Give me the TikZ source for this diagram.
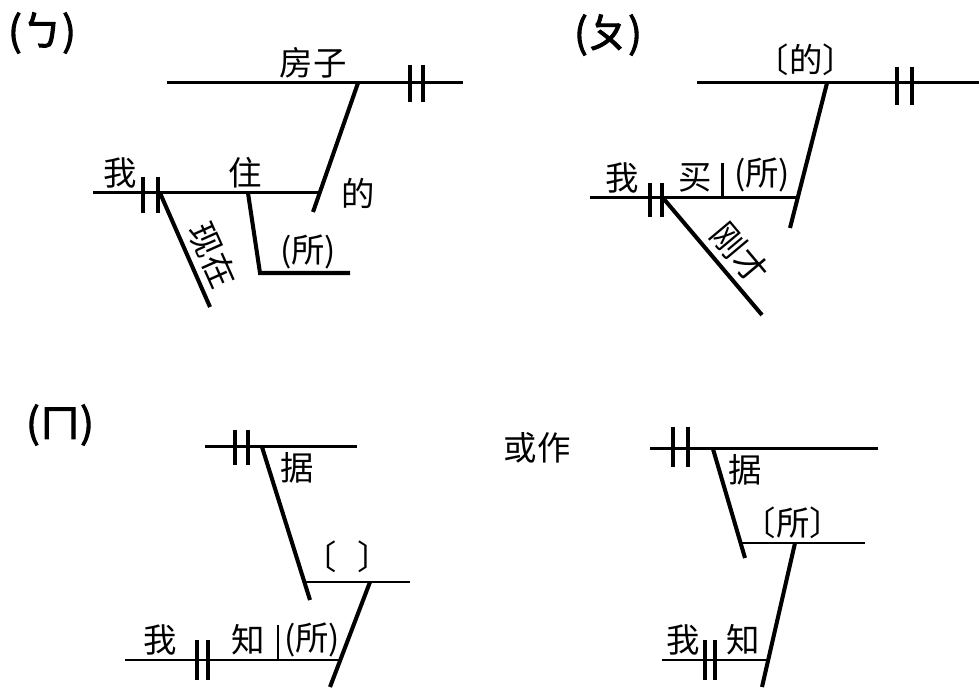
\documentclass[tikz,border=0pt]{standalone}
\usepackage{fontspec}
\usepackage{tikz}
\newfontfamily\cjk{Noto Sans CJK SC}
\newfontfamily\cjkheavy[FakeBold=2.5]{Noto Sans CJK SC}
\tikzset{
  base/.style={draw=black,line width=0.85pt},
  stem/.style={draw=black,line width=1.15pt},
  bar/.style={draw=black,line width=1.3pt},
  word/.style={font=\cjk\fontsize{9.5}{11}\selectfont,inner sep=0pt},
  tag/.style={font=\cjkheavy\fontsize{11.5}{13}\selectfont,inner sep=0pt},
}
\begin{document}
\begin{tikzpicture}[x=0.01cm,y=-0.01cm]
\useasboundingbox (0,0) rectangle (979,689);
\coordinate (a1) at (167,83);
\coordinate (a2) at (463,83);
\coordinate (a3) at (358,83);
\coordinate (a4) at (313,212);
\coordinate (a5) at (93,193);
\coordinate (a6) at (320,193);
\coordinate (a7) at (160,193);
\coordinate (a8) at (210,307);
\coordinate (a9) at (248,193);
\coordinate (a10) at (260,273);
\coordinate (a11) at (350,273);
\draw[base] (a1)--(a2);
\draw[stem] (a3)--(a4);
\draw[base] (a5)--(a6);
\draw[stem] (a7)--(a8);
\draw[stem] (a9)--(a10)--(a11);
\draw[bar] (410,65)--(410,102);
\draw[bar] (423,65)--(423,102);
\draw[bar] (143,177)--(143,213);
\draw[bar] (158,177)--(158,213);
\node[tag] (tagA) at (42,33) {(ㄅ)};
\node[word] (house) at (313,63) {房子};
\node[word] (deA) at (358,193) {的};
\node[word] (woA) at (120,173) {我};
\node[word] (zhu) at (245,173) {住};
\node[word] (suoA) at (308,252) {(所)};
\node[word,rotate=-66] (xianzai) at (213,255) {现在};

\coordinate (b1) at (697,83);
\coordinate (b2) at (979,83);
\coordinate (b3) at (827,83);
\coordinate (b4) at (790,228);
\coordinate (b5) at (590,198);
\coordinate (b6) at (798,198);
\coordinate (b7) at (663,198);
\coordinate (b8) at (762,315);
\coordinate (b9) at (722,163);
\coordinate (b10) at (722,198);
\draw[base] (b1)--(b2);
\draw[stem] (b3)--(b4);
\draw[base] (b5)--(b6);
\draw[stem] (b7)--(b8);
\draw[base] (b9)--(b10);
\draw[bar] (897,67)--(897,105);
\draw[bar] (912,67)--(912,105);
\draw[bar] (650,183)--(650,217);
\draw[bar] (662,183)--(662,217);
\node[tag] (tagB) at (608,35) {(ㄆ)};
\node[word] (deB) at (806,60) {〔的〕};
\node[word] (woB) at (622,178) {我};
\node[word] (mai) at (695,178) {买};
\node[word] (suoB) at (762,175) {(所)};
\node[word,rotate=-50] (gangcai) at (740,253) {刚才};

\coordinate (c1) at (205,447);
\coordinate (c2) at (357,447);
\coordinate (c3) at (262,447);
\coordinate (c4) at (310,600);
\coordinate (c5) at (305,582);
\coordinate (c6) at (410,582);
\coordinate (c7) at (370,582);
\coordinate (c8) at (330,687);
\coordinate (c9) at (125,660);
\coordinate (c10) at (340,660);
\coordinate (c11) at (278,625);
\coordinate (c12) at (278,660);
\draw[base] (c1)--(c2);
\draw[stem] (c3)--(c4);
\draw[base] (c5)--(c6);
\draw[stem] (c7)--(c8);
\draw[base] (c9)--(c10);
\draw[base] (c11)--(c12);
\draw[bar] (235,430)--(235,465);
\draw[bar] (248,430)--(248,465);
\draw[bar] (197,640)--(197,680);
\draw[bar] (208,640)--(208,680);
\node[tag] (tagC) at (60,425) {(ㄇ)};
\node[word] (juC) at (297,468) {据};
\node[word] (blank) at (347,557) {〔\hspace{0.6em}〕};
\node[word] (woC) at (160,640) {我};
\node[word] (zhiC) at (248,640) {知};
\node[word] (suoC) at (312,640) {(所)};

\coordinate (d1) at (650,449);
\coordinate (d2) at (878,449);
\coordinate (d3) at (713,449);
\coordinate (d4) at (745,558);
\coordinate (d5) at (742,543);
\coordinate (d6) at (865,543);
\coordinate (d7) at (795,543);
\coordinate (d8) at (762,687);
\coordinate (d9) at (662,660);
\coordinate (d10) at (768,660);
\draw[base] (d1)--(d2);
\draw[stem] (d3)--(d4);
\draw[base] (d5)--(d6);
\draw[stem] (d7)--(d8);
\draw[base] (d9)--(d10);
\draw[bar] (673,427)--(673,467);
\draw[bar] (688,427)--(688,467);
\draw[bar] (705,640)--(705,680);
\draw[bar] (715,640)--(715,680);
\node[word] (huozuo) at (537,448) {或作};
\node[word] (juD) at (745,470) {据};
\node[word] (suoD) at (793,523) {〔所〕};
\node[word] (woD) at (683,640) {我};
\node[word] (zhiD) at (743,640) {知};
\end{tikzpicture}
\end{document}
